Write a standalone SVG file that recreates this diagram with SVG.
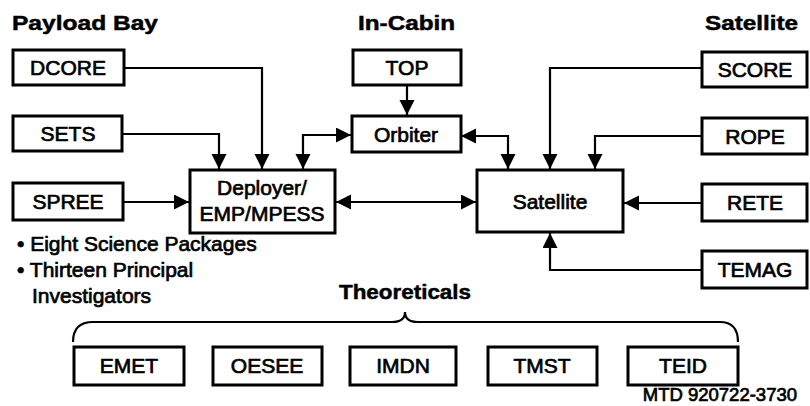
<svg xmlns="http://www.w3.org/2000/svg" width="810" height="406" viewBox="0 0 810 406">
<style>
.box{fill:#fff;stroke:#000;stroke-width:3}
.lbl{font-family:"Liberation Sans",Arial,sans-serif;font-size:21px;fill:#000;stroke:#000;stroke-width:0.7;text-anchor:middle}
.hd{font-family:"Liberation Sans",Arial,sans-serif;font-size:21px;font-weight:bold;fill:#000;stroke:#000;stroke-width:0.5}
.txt{font-family:"Liberation Sans",Arial,sans-serif;font-size:21px;fill:#000;stroke:#000;stroke-width:0.7}
.ln{fill:none;stroke:#000;stroke-width:2.2}
</style>
<defs>
<marker id="ah" markerUnits="userSpaceOnUse" markerWidth="16" markerHeight="16" refX="15" refY="7.5" orient="auto-start-reverse">
<path d="M0,0 L15,7.5 L0,15 z" fill="#000"/>
</marker>
</defs>
<rect width="810" height="406" fill="#fff"/>

<g id="headings">
<text class="hd" x="12" y="30" textLength="146" lengthAdjust="spacingAndGlyphs">Payload Bay</text>
<text class="hd" x="358" y="30" textLength="97" lengthAdjust="spacingAndGlyphs">In-Cabin</text>
<text class="hd" x="705" y="30" textLength="93" lengthAdjust="spacingAndGlyphs">Satellite</text>
<text class="hd" x="405" y="299" text-anchor="middle" textLength="132" lengthAdjust="spacingAndGlyphs">Theoreticals</text>
</g>

<g id="connectors">
<path class="ln" d="M124,68 H262 V169" marker-end="url(#ah)"/>
<path class="ln" d="M122,134 H219 V169" marker-end="url(#ah)"/>
<path class="ln" d="M123,202 H189" marker-end="url(#ah)"/>
<path class="ln" d="M351,135 H303 V169" marker-start="url(#ah)" marker-end="url(#ah)"/>
<path class="ln" d="M407,85 V115" marker-end="url(#ah)"/>
<path class="ln" d="M461,136 H508 V169" marker-start="url(#ah)" marker-end="url(#ah)"/>
<path class="ln" d="M336,202 H476" marker-start="url(#ah)" marker-end="url(#ah)"/>
<path class="ln" d="M702,68 H550 V169" marker-end="url(#ah)"/>
<path class="ln" d="M702,136 H595 V169" marker-end="url(#ah)"/>
<path class="ln" d="M702,203 H624" marker-end="url(#ah)"/>
<path class="ln" d="M702,270 H550 V233" marker-end="url(#ah)"/>
<path class="ln" d="M73,342 Q73,322 93,322 H392 Q405,322 405,312 Q405,322 418,322 H720 Q738,322 738,342"/>
</g>

<g id="DCORE"><rect class="box" x="13" y="50" width="111" height="35"/><text class="lbl" x="68" y="75">DCORE</text></g>
<g id="SETS"><rect class="box" x="13" y="116" width="109" height="35"/><text class="lbl" x="68" y="141">SETS</text></g>
<g id="SPREE"><rect class="box" x="13" y="183" width="110" height="37"/><text class="lbl" x="68" y="209">SPREE</text></g>
<g id="TOP"><rect class="box" x="353" y="50" width="108" height="35"/><text class="lbl" x="407" y="75">TOP</text></g>
<g id="Orbiter"><rect class="box" x="352" y="116" width="109" height="36"/><text class="lbl" x="406" y="142">Orbiter</text></g>
<g id="Deployer"><rect class="box" x="190" y="170" width="145" height="63"/><text class="lbl" x="262" y="195">Deployer/</text><text class="lbl" x="262" y="221">EMP/MPESS</text></g>
<g id="Satellite"><rect class="box" x="477" y="170" width="146" height="62"/><text class="lbl" x="550" y="209">Satellite</text></g>
<g id="SCORE"><rect class="box" x="702" y="52" width="105" height="35"/><text class="lbl" x="755" y="77">SCORE</text></g>
<g id="ROPE"><rect class="box" x="702" y="118" width="105" height="36"/><text class="lbl" x="755" y="144">ROPE</text></g>
<g id="RETE"><rect class="box" x="702" y="184" width="105" height="37"/><text class="lbl" x="755" y="210">RETE</text></g>
<g id="TEMAG"><rect class="box" x="702" y="251" width="105" height="37"/><text class="lbl" x="755" y="277">TEMAG</text></g>

<g id="notes">
<text class="txt" x="17" y="251">• Eight Science Packages</text>
<text class="txt" x="17" y="277">• Thirteen Principal</text>
<text class="txt" x="32" y="303">Investigators</text>
</g>

<g id="EMET"><rect class="box" x="74" y="347" width="110" height="38"/><text class="lbl" x="129" y="373">EMET</text></g>
<g id="OESEE"><rect class="box" x="213" y="347" width="109" height="38"/><text class="lbl" x="267" y="373">OESEE</text></g>
<g id="IMDN"><rect class="box" x="350" y="347" width="106" height="38"/><text class="lbl" x="403" y="373">IMDN</text></g>
<g id="TMST"><rect class="box" x="488" y="347" width="109" height="38"/><text class="lbl" x="542" y="373">TMST</text></g>
<g id="TEID"><rect class="box" x="628" y="347" width="110" height="38"/><text class="lbl" x="683" y="373">TEID</text></g>

<text class="txt" x="797" y="401" text-anchor="end" style="font-size:18.5px">MTD 920722-3730</text>
</svg>
